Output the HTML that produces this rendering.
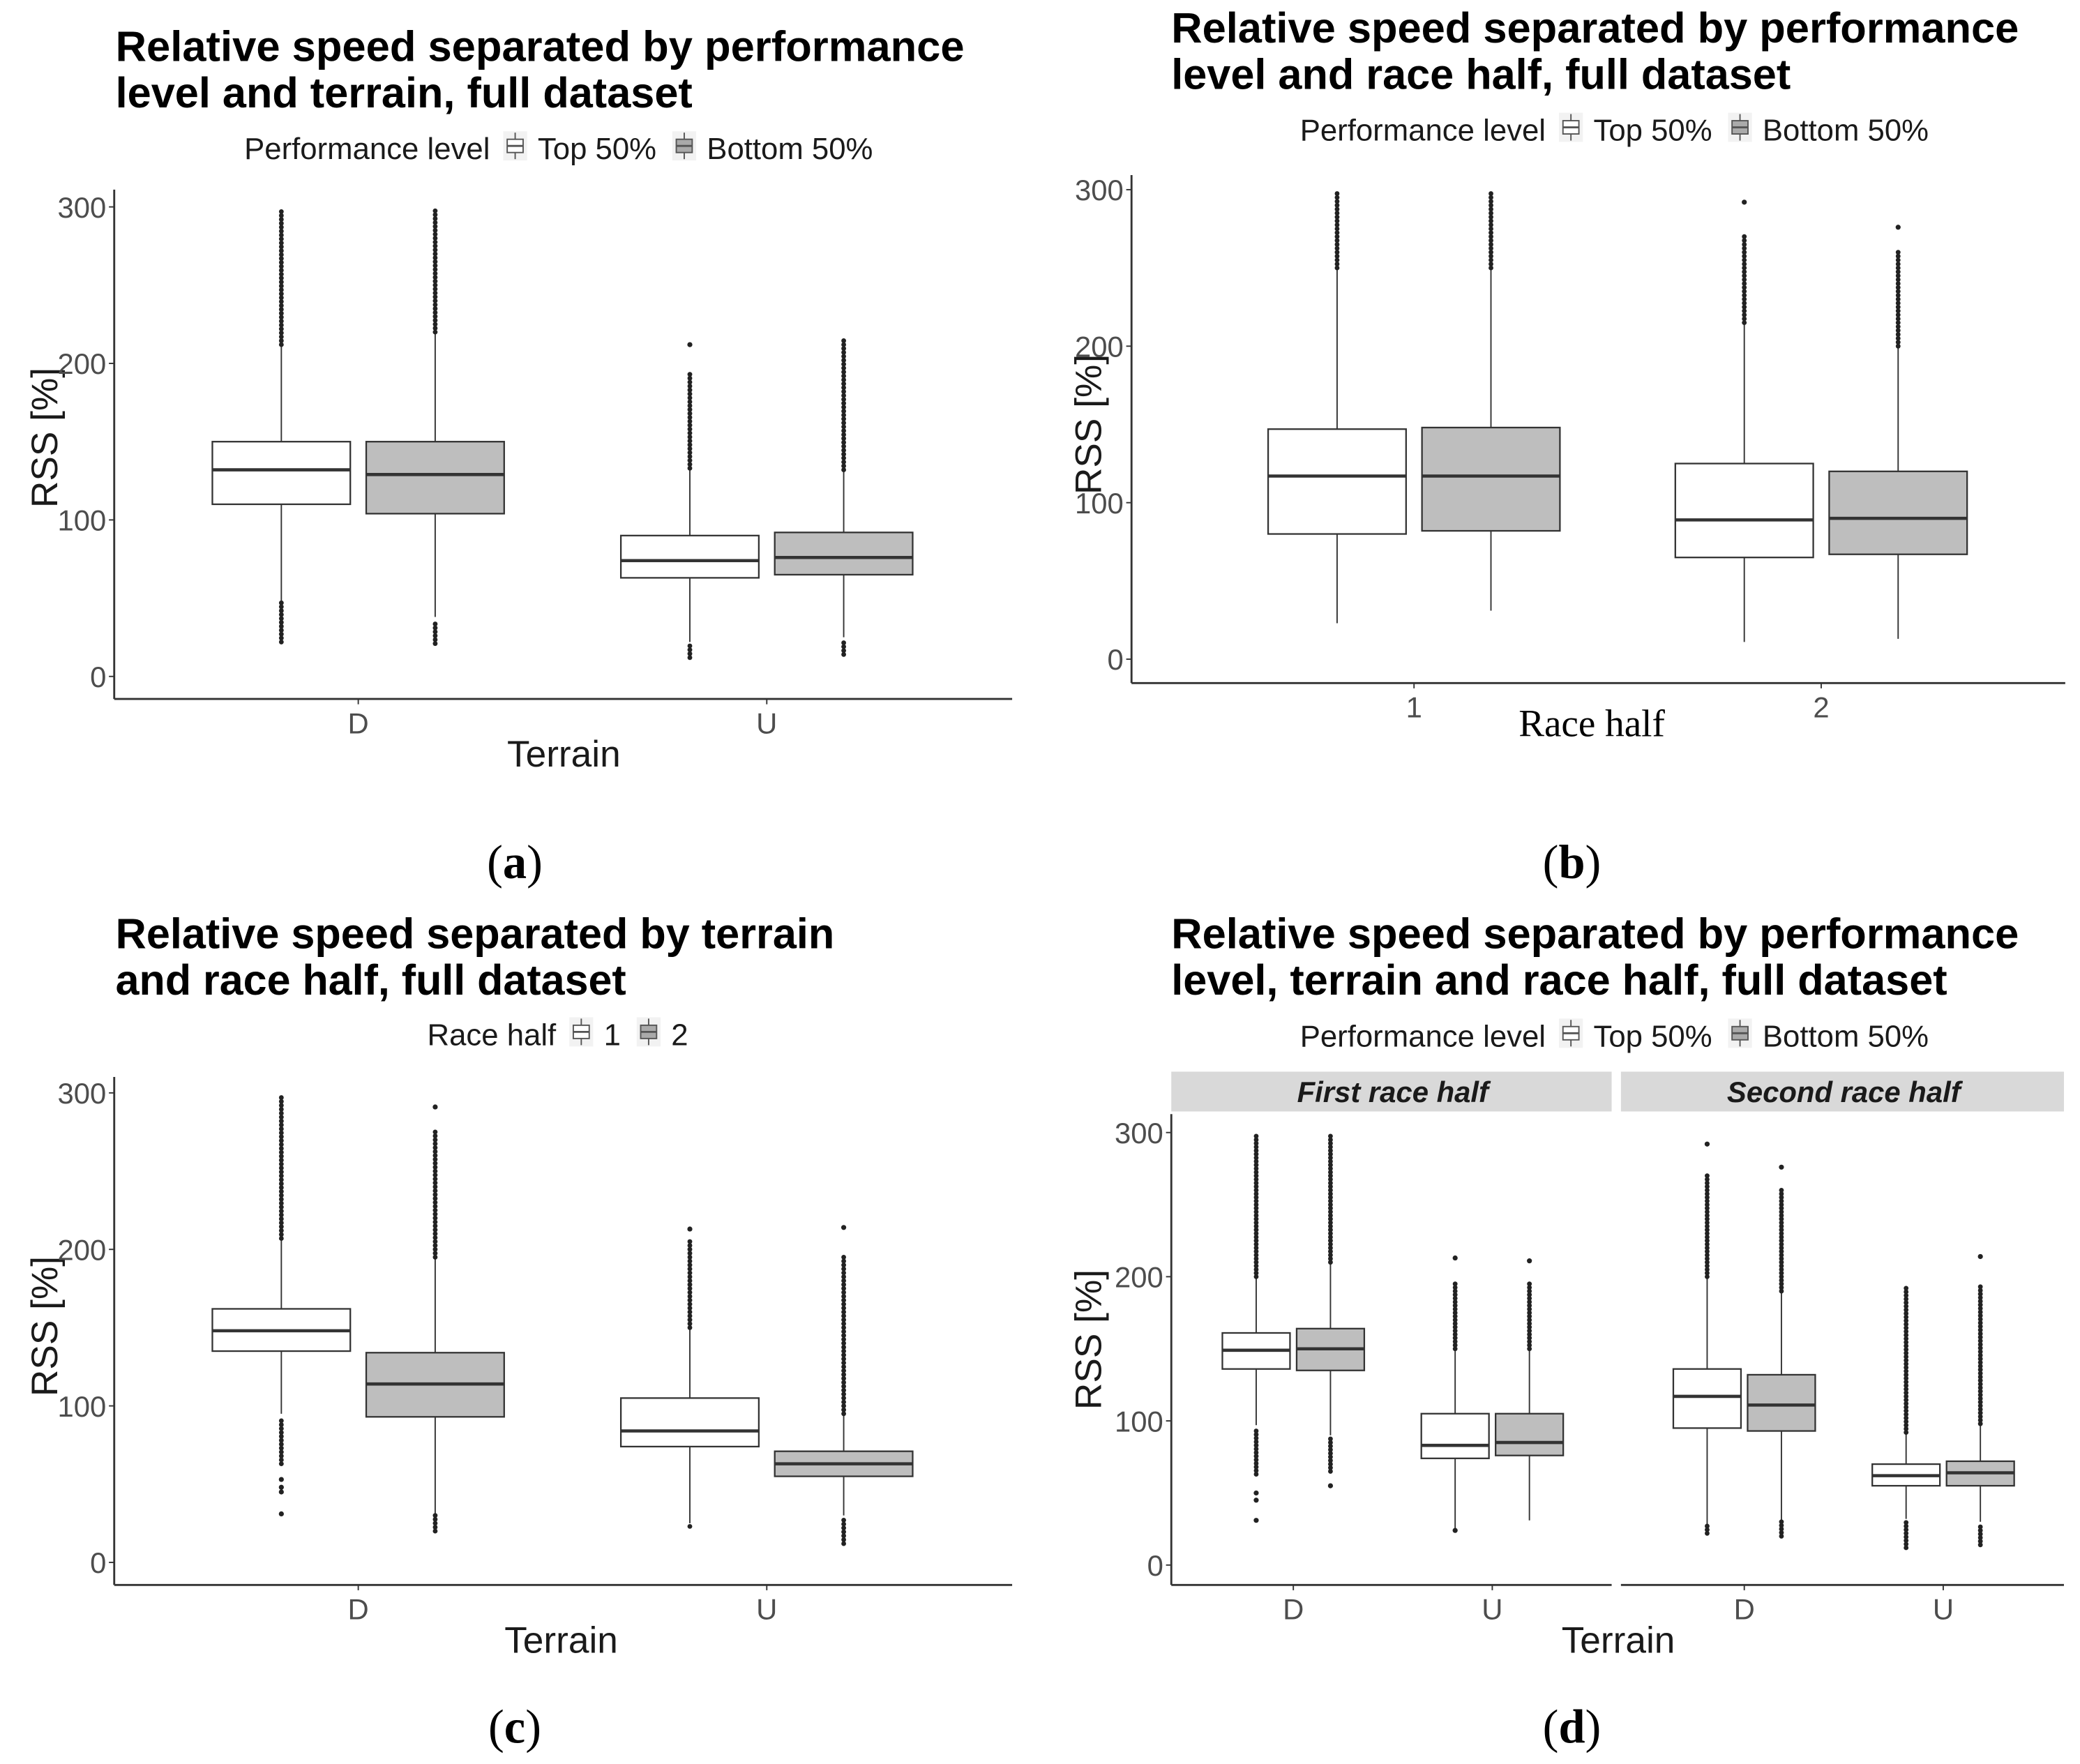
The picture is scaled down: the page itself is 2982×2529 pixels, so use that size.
<!DOCTYPE html>
<html><head><meta charset="utf-8"><style>
html,body{margin:0;padding:0;background:#fff;}
svg{display:block;}
.t{font-family:"Liberation Sans",sans-serif;}
.title{font-weight:bold;font-size:32px;fill:#000;}
.leg{font-size:23px;fill:#1a1a1a;}
.tick{font-size:22px;fill:#4d4d4d;}
.axt{font-size:28px;fill:#1a1a1a;}
.serif{font-family:"Liberation Serif",serif;font-size:36px;fill:#000;}
</style></head><body>
<svg id="fig" width="2982" height="2529" viewBox="0 0 1568 1330" xmlns="http://www.w3.org/2000/svg">
<rect width="1568" height="1330" fill="#fff"/>
<!-- Panel a text -->
<text class="t title" x="87" y="46" textLength="640" lengthAdjust="spacingAndGlyphs">Relative speed separated by performance</text>
<text class="t title" x="87" y="81" textLength="435" lengthAdjust="spacingAndGlyphs">level and terrain, full dataset</text>
<text class="t axt" x="425" y="578" text-anchor="middle">Terrain</text>
<text class="t axt" transform="translate(43,330) rotate(-90)" text-anchor="middle">RSS [%]</text>
<text class="serif" x="388" y="662" text-anchor="middle">(<tspan font-weight="bold">a</tspan>)</text>
<!-- Panel b text -->
<text class="t title" x="883" y="32" textLength="639" lengthAdjust="spacingAndGlyphs">Relative speed separated by performance</text>
<text class="t title" x="883" y="67" textLength="467" lengthAdjust="spacingAndGlyphs">level and race half, full dataset</text>
<text class="serif" x="1200" y="555" text-anchor="middle" style="font-size:29px">Race half</text>
<text class="t axt" transform="translate(830,320) rotate(-90)" text-anchor="middle">RSS [%]</text>
<text class="serif" x="1185" y="662" text-anchor="middle">(<tspan font-weight="bold">b</tspan>)</text>
<!-- Panel c text -->
<text class="t title" x="87" y="715" textLength="542" lengthAdjust="spacingAndGlyphs">Relative speed separated by terrain</text>
<text class="t title" x="87" y="750" textLength="385" lengthAdjust="spacingAndGlyphs">and race half, full dataset</text>
<text class="t axt" x="423" y="1246" text-anchor="middle">Terrain</text>
<text class="t axt" transform="translate(43,1000) rotate(-90)" text-anchor="middle">RSS [%]</text>
<text class="serif" x="388" y="1314" text-anchor="middle">(<tspan font-weight="bold">c</tspan>)</text>
<!-- Panel d text -->
<text class="t title" x="883" y="715" textLength="639" lengthAdjust="spacingAndGlyphs">Relative speed separated by performance</text>
<text class="t title" x="883" y="750" textLength="585" lengthAdjust="spacingAndGlyphs">level, terrain and race half, full dataset</text>
<text class="t axt" x="1220" y="1246" text-anchor="middle">Terrain</text>
<text class="t axt" transform="translate(830,1010) rotate(-90)" text-anchor="middle">RSS [%]</text>
<text class="serif" x="1185" y="1314" text-anchor="middle">(<tspan font-weight="bold">d</tspan>)</text>
<rect x="883" y="808" width="332" height="30" fill="#d9d9d9"/>
<rect x="1222" y="808" width="334" height="30" fill="#d9d9d9"/>
<text class="t" x="1050" y="831" text-anchor="middle" font-size="22" font-weight="bold" font-style="italic" fill="#1a1a1a">First race half</text>
<text class="t" x="1390" y="831" text-anchor="middle" font-size="22" font-weight="bold" font-style="italic" fill="#1a1a1a">Second race half</text>
<g id="marks"></g>
</svg>
<script>
// ---- data: [lowerWhisker, q1, median, q3, upperWhisker] per group ----
const yTicks = [0, 100, 200, 300];
const catsA = ["D", "U"];
const statsA = [[48,110,132,150,212],[38,104,129,150,220],[22,63,74,90,132],[25,65,76,92,132]];
const runsA = [[[22,48],[212,298]],[[21,35],[220,298]],[[12,20],[133,195]],[[14,22],[132,215]]];
const ptsA = [[],[],[212],[]];

const catsB = ["1", "2"];
const statsB = [[23,80,117,147,250],[31,82,117,148,250],[11,65,89,125,215],[13,67,90,120,200]];
const runsB = [[[250,298]],[[250,298]],[[215,272]],[[200,260]]];
const ptsB = [[],[],[292],[276]];

const catsC = ["D", "U"];
const statsC = [[95,135,148,162,207],[31,93,114,134,195],[25,74,84,105,150],[30,55,63,71,95]];
const runsC = [[[63,92],[207,298]],[[20,30],[195,276]],[[23,25],[150,205]],[[12,29],[95,195]]];
const ptsC = [[31,45,48,53],[291],[213],[214]];

const catsD = ["D", "U", "D", "U"];
const statsD = [[97,136,149,161,200],[90,135,150,164,210],[24,74,83,105,150],[31,76,85,105,150],
                [28,95,117,136,200],[30,93,111,132,190],[32,55,62,70,92],[30,55,64,72,98]];
const runsD = [[[63,95],[200,298]],[[65,88],[210,298]],[[150,195]],[[150,195]],
               [[22,28],[200,272]],[[20,30],[190,260]],[[12,30],[92,193]],[[14,28],[98,195]]];
const ptsD = [[31,45,50],[55],[213,24],[211],[292],[276],[],[214]];

const NS = "http://www.w3.org/2000/svg";
const root = document.getElementById("marks");
function mk(tag, attrs, parent) {
  const e = document.createElementNS(NS, tag);
  for (const k in attrs) e.setAttribute(k, attrs[k]);
  (parent || root).appendChild(e);
  return e;
}
function yScale(p) { return v => p.y0 - v * p.ppu; }

function drawAxes(p, name) {
  const y = yScale(p);
  const a = mk("line", {x1:p.ax, y1:p.top, x2:p.ax, y2:p.base, stroke:"#333", "stroke-width":1.5});
  
  
  p.xSegs.forEach(function(s, i) {
    const l = mk("line", {x1:s[0], y1:p.base, x2:s[1], y2:p.base, stroke:"#333", "stroke-width":1.5});
    
    
  });
  yTicks.forEach(function(t) {
    const tk = mk("line", {x1:p.ax - 4, y1:y(t), x2:p.ax, y2:y(t), stroke:"#333", "stroke-width":1});
    
    
    const tx = mk("text", {x:p.ax - 6, y:y(t) + 8, "text-anchor":"end", class:"t tick"});
    tx.textContent = t;
    
    
  });
  p.cats.forEach(function(c, i) {
    const cx = p.cx[i];
    const tk = mk("line", {x1:cx, y1:p.base, x2:cx, y2:p.base + 4, stroke:"#333", "stroke-width":1});
    
    
    const tx = mk("text", {x:cx, y:p.base + 26, "text-anchor":"middle", class:"t tick"});
    tx.textContent = c;
    
    
  });
}

function drawBoxes(p, stats, runs, pts, name) {
  const y = yScale(p);
  stats.forEach(function(s, i) {
    const cat = Math.floor(i / 2), sub = i % 2;
    const cx = p.cx[cat] + (sub === 0 ? -p.off : p.off);
    const w = p.bw;
    const fill = sub === 0 ? "#ffffff" : "#bebebe";
    const g = mk("g", {});
    
    
    mk("line", {x1:cx, y1:y(s[0]), x2:cx, y2:y(s[1]), stroke:"#333", "stroke-width":1}, g);
    mk("line", {x1:cx, y1:y(s[3]), x2:cx, y2:y(s[4]), stroke:"#333", "stroke-width":1}, g);
    mk("rect", {x:cx - w/2, y:y(s[3]), width:w, height:y(s[1]) - y(s[3]), fill:fill, stroke:"#333", "stroke-width":1.2}, g);
    mk("line", {x1:cx - w/2, y1:y(s[2]), x2:cx + w/2, y2:y(s[2]), stroke:"#333", "stroke-width":2.4}, g);
    runs[i].forEach(function(r) {
      for (let v = r[0]; v <= r[1]; v += 2.5) {
        mk("circle", {cx:cx, cy:y(v), r:1.8, fill:"#222"}, g);
      }
    });
    pts[i].forEach(function(v) {
      mk("circle", {cx:cx, cy:y(v), r:1.9, fill:"#222"}, g);
    });
  });
}

function legend(x0, yb, title, labels, name) {
  const t = mk("text", {x:x0, y:yb, class:"t leg"});
  t.textContent = title;
  
  
  let x = x0 + t.getComputedTextLength() + 10;
  labels.forEach(function(lb, i) {
    const g = mk("g", {});
    
    
    mk("rect", {x:x, y:yb - 21, width:18, height:22, fill:"#f2f2f2"}, g);
    mk("line", {x1:x + 9, y1:yb - 20, x2:x + 9, y2:yb, stroke:"#555", "stroke-width":1}, g);
    mk("rect", {x:x + 3, y:yb - 15, width:12, height:10, fill:i === 0 ? "#fff" : "#aaa", stroke:"#555", "stroke-width":1}, g);
    mk("line", {x1:x + 3, y1:yb - 10, x2:x + 15, y2:yb - 10, stroke:"#555", "stroke-width":1.5}, g);
    const tx = mk("text", {x:x + 26, y:yb, class:"t leg"}, g);
    tx.textContent = lb;
    x += 26 + tx.getComputedTextLength() + 12;
  });
}

const pA = {y0:510, ppu:1.18, ax:86, top:143, base:527, xSegs:[[86,763]], cats:catsA, cx:[270,578], off:58, bw:104};
const pB = {y0:497, ppu:1.18, ax:853, top:132, base:515, xSegs:[[853,1557]], cats:catsB, cx:[1066,1373], off:58, bw:104};
const pC = {y0:1178, ppu:1.18, ax:86, top:812, base:1195, xSegs:[[86,763]], cats:catsC, cx:[270,578], off:58, bw:104};
const pD = {y0:1180, ppu:1.087, ax:883, top:840, base:1195, xSegs:[[883,1215],[1222,1556]], cats:catsD, cx:[975,1125,1315,1465], off:28, bw:51};

drawAxes(pA, "panel-a"); drawBoxes(pA, statsA, runsA, ptsA, "panel-a");
drawAxes(pB, "panel-b"); drawBoxes(pB, statsB, runsB, ptsB, "panel-b");
drawAxes(pC, "panel-c"); drawBoxes(pC, statsC, runsC, ptsC, "panel-c");
drawAxes(pD, "panel-d"); drawBoxes(pD, statsD, runsD, ptsD, "panel-d");
legend(184, 120, "Performance level", ["Top 50%", "Bottom 50%"], "panel-a");
legend(980, 106, "Performance level", ["Top 50%", "Bottom 50%"], "panel-b");
legend(322, 788, "Race half", ["1", "2"], "panel-c");
legend(980, 789, "Performance level", ["Top 50%", "Bottom 50%"], "panel-d");
</script>
</body></html>
